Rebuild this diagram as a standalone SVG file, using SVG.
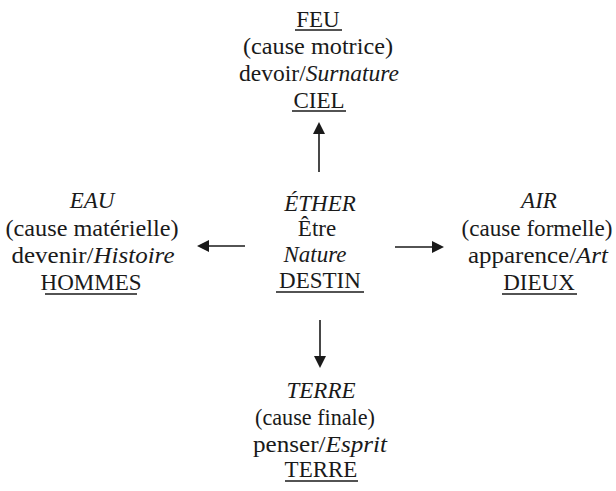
<svg xmlns="http://www.w3.org/2000/svg" width="616" height="491" viewBox="0 0 616 491">
<style>
.t{font-family:"Liberation Serif",serif;font-size:23px;fill:#1a1a1a;text-anchor:middle}
.i{font-style:italic}
.u{stroke:#1a1a1a;stroke-width:1.4}
.c{stroke:#1a1a1a;stroke-width:1.6;fill:none}
.h{fill:#1a1a1a}
</style>
<rect width="616" height="491" fill="#fff"/>
<g id="connectors">
<line class="c" x1="319" y1="172" x2="319" y2="132"/>
<polygon class="h" points="319,122 313,134 325,134"/>
<line class="c" x1="245" y1="246" x2="207" y2="246"/>
<polygon class="h" points="197,246 209,240 209,252"/>
<line class="c" x1="395" y1="247" x2="434" y2="247"/>
<polygon class="h" points="444,247 432,241 432,253"/>
<line class="c" x1="320" y1="320" x2="320" y2="358"/>
<polygon class="h" points="320,368 314,356 326,356"/>
</g>
<g id="feu">
<text class="t" x="318" y="27">FEU</text>
<line class="u" x1="295" y1="30" x2="342" y2="30"/>
<text class="t" x="318" y="54" textLength="150" lengthAdjust="spacingAndGlyphs">(cause motrice)</text>
<text class="t" x="319" y="81" textLength="160" lengthAdjust="spacingAndGlyphs">devoir/<tspan class="i">Surnature</tspan></text>
<text class="t" x="319" y="108">CIEL</text>
<line class="u" x1="292" y1="111" x2="346" y2="111"/>
</g>
<g id="ether">
<text class="t i" x="320" y="211">ÉTHER</text>
<text class="t" x="317" y="236">Être</text>
<text class="t i" x="315" y="262">Nature</text>
<text class="t" x="320" y="288">DESTIN</text>
<line class="u" x1="276" y1="292" x2="364" y2="292"/>
</g>
<g id="eau">
<text class="t i" x="92" y="208">EAU</text>
<text class="t" x="92" y="236" textLength="173" lengthAdjust="spacingAndGlyphs">(cause matérielle)</text>
<text class="t" x="93" y="263" textLength="163" lengthAdjust="spacingAndGlyphs">devenir/<tspan class="i">Histoire</tspan></text>
<text class="t" x="91" y="290">HOMMES</text>
<line class="u" x1="45" y1="294" x2="137" y2="294"/>
</g>
<g id="air">
<text class="t i" x="539" y="208">AIR</text>
<text class="t" x="537" y="236" textLength="151" lengthAdjust="spacingAndGlyphs">(cause formelle)</text>
<text class="t" x="538" y="263" textLength="140" lengthAdjust="spacingAndGlyphs">apparence/<tspan class="i">Art</tspan></text>
<text class="t" x="539" y="290">DIEUX</text>
<line class="u" x1="502" y1="294" x2="577" y2="294"/>
</g>
<g id="terre">
<text class="t i" x="321" y="398">TERRE</text>
<text class="t" x="315" y="425" textLength="120" lengthAdjust="spacingAndGlyphs">(cause finale)</text>
<text class="t" x="320" y="452" textLength="134" lengthAdjust="spacingAndGlyphs">penser/<tspan class="i">Esprit</tspan></text>
<text class="t" x="321" y="477">TERRE</text>
<line class="u" x1="285" y1="481" x2="358" y2="481"/>
</g>
</svg>
